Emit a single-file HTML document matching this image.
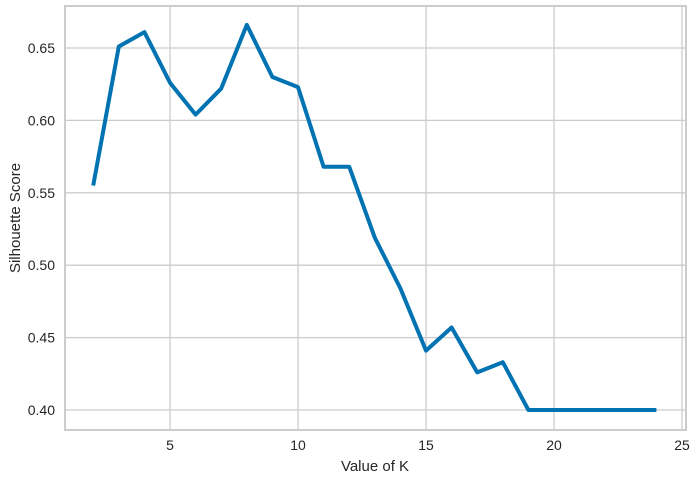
<!DOCTYPE html>
<html><head><meta charset="utf-8"><style>
body{margin:0;background:#fff;}
svg text{font-family:"Liberation Sans",sans-serif;fill:#262626;}
</style></head><body>
<svg id="chart" width="696" height="479" xmlns="http://www.w3.org/2000/svg">
<g id="grid"></g><g id="series"></g><g id="labels"></g>
<rect x="65" y="6" width="621" height="424" fill="none" stroke="#cccccc" stroke-width="2"/>
<text x="375" y="471" font-size="15" text-anchor="middle">Value of K</text>
<text transform="translate(20,218) rotate(-90)" font-size="15" text-anchor="middle">Silhouette Score</text>
</svg>
<script>
const kValues=[2,3,4,5,6,7,8,9,10,11,12,13,14,15,16,17,18,19,20,21,22,23,24];
const scores=[0.555,0.651,0.661,0.626,0.604,0.622,0.666,0.630,0.623,0.568,0.568,0.519,0.484,0.441,0.457,0.426,0.433,0.400,0.400,0.400,0.400,0.400,0.400];
const xTicks=[5,10,15,20,25];
const yTicks=[0.40,0.45,0.50,0.55,0.60,0.65];
const NS="http://www.w3.org/2000/svg";
const xs=v=>42+(v)*25.6;
const ys=v=>410-(v-0.40)/0.05*72.4;
const grid=document.getElementById('grid'),labels=document.getElementById('labels'),series=document.getElementById('series');
function mk(tag,attrs,parent){const e=document.createElementNS(NS,tag);for(const k in attrs)e.setAttribute(k,attrs[k]);parent.appendChild(e);return e;}
xTicks.forEach(t=>{
 const l=mk('line',{x1:xs(t),x2:xs(t),y1:6,y2:430,stroke:'#cccccc','stroke-width':1.3},grid);
 
 
 const tx=mk('text',{x:xs(t),y:450,'font-size':14,'text-anchor':'middle'},labels);
 tx.textContent=t;
 
 
});
yTicks.forEach(t=>{
 const l=mk('line',{x1:65,x2:686,y1:ys(t),y2:ys(t),stroke:'#cccccc','stroke-width':1.3},grid);
 
 
 const tx=mk('text',{x:55,y:ys(t)+5,'font-size':14,'text-anchor':'end'},labels);
 tx.textContent=t.toFixed(2);
 
 
});
const pts=kValues.map((k,i)=>xs(k)+','+ys(scores[i])).join(' ');
const pl=mk('polyline',{points:pts,fill:'none',stroke:'#0173b2','stroke-width':4,'stroke-linejoin':'round','stroke-linecap':'butt'},series);


</script>
</body></html>
